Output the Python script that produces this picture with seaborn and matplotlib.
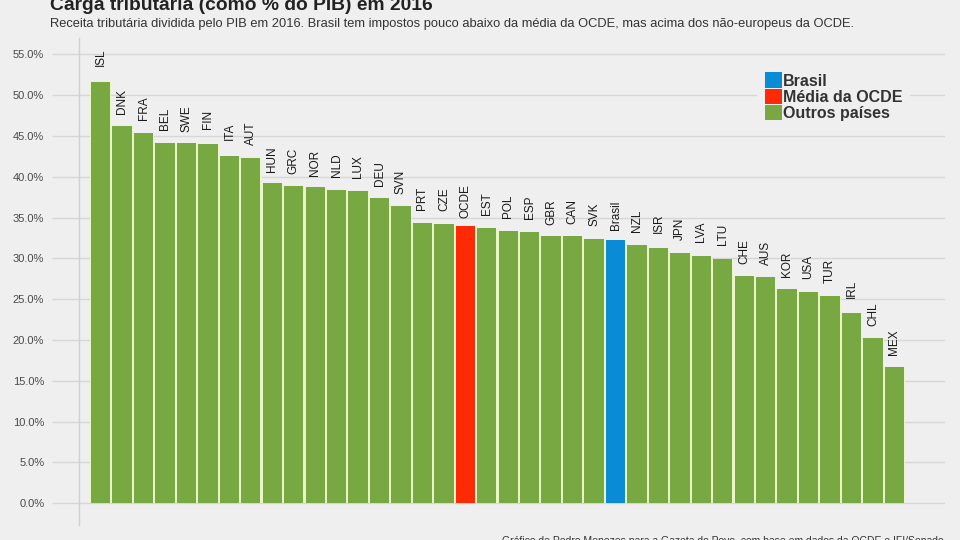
import numpy as np
import pandas as pd
import matplotlib
matplotlib.use("Agg")
import matplotlib.pyplot as plt
import seaborn as sns
from matplotlib.patches import Patch

# dados (% do PIB, 2016)
paises = ["ISL", "DNK", "FRA", "BEL", "SWE", "FIN", "ITA", "AUT", "HUN", "GRC",
          "NOR", "NLD", "LUX", "DEU", "SVN", "PRT", "CZE", "OCDE", "EST", "POL",
          "ESP", "GBR", "CAN", "SVK", "Brasil", "NZL", "ISR", "JPN", "LVA", "LTU",
          "CHE", "AUS", "KOR", "USA", "TUR", "IRL", "CHL", "MEX"]
carga = [51.6, 46.2, 45.4, 44.1, 44.1, 44.0, 42.6, 42.3, 39.2, 38.9,
         38.7, 38.4, 38.2, 37.4, 36.4, 34.3, 34.2, 34.0, 33.7, 33.4,
         33.2, 32.7, 32.7, 32.4, 32.3, 31.6, 31.3, 30.6, 30.3, 29.9,
         27.8, 27.7, 26.3, 25.9, 25.4, 23.3, 20.2, 16.7]
grupos = ["Brasil", "Média da OCDE", "Outros países"]
cores = ["#0a8bd6", "#fd2a05", "#78a842"]
yticks = [0, 5, 10, 15, 20, 25, 30, 35, 40, 45, 50, 55]

grupo = ["Brasil" if p == "Brasil" else "Média da OCDE" if p == "OCDE" else "Outros países"
         for p in paises]
df = pd.DataFrame({"pais": paises, "carga": carga, "grupo": grupo})

bg = "#efefef"
grid = "#d6d6d6"

sns.set_theme(style="whitegrid")
plt.rcParams["font.family"] = ["Liberation Sans", "DejaVu Sans"]

W, H = 960, 540
fig = plt.figure(figsize=(9.6, 5.4), dpi=100, facecolor=bg)
ax = fig.add_axes([79 / W, 1 - 525 / H, (945 - 79) / W, (525 - 38) / H])
ax.set_facecolor(bg)

# camada clara por tras (faixas entre as barras)
sns.barplot(data=df, x="pais", y="carga", order=paises, color="#eaf5c8",
            width=1.0, saturation=1, linewidth=0, edgecolor="none", ax=ax, zorder=2)
sns.barplot(data=df, x="pais", y="carga", order=paises, hue="grupo",
            hue_order=grupos, palette=dict(zip(grupos, cores)), dodge=False,
            width=0.9, saturation=1, linewidth=0, edgecolor="none",
            legend=False, ax=ax, zorder=3)

for i, (p, v) in enumerate(zip(paises, carga)):
    ax.text(i, v + 3.0, p, rotation=90, ha="center", va="center",
            fontsize=8.5, color="#1a1a1a", zorder=4)

ax.set_xlim(-1.01, 39.36)
ax.set_ylim(-2.68, 57.0)
ax.set_yticks(yticks)
ax.set_yticklabels([f"{t:.1f}%" for t in yticks], fontsize=8, color="#4a4a4a")
ax.set_xticks([])
ax.set_xlabel("")
ax.set_ylabel("")
ax.grid(axis="y", color=grid, linewidth=1.0, zorder=0)
ax.grid(axis="x", visible=False)
ax.set_axisbelow(True)
ax.tick_params(axis="y", length=19.5, width=1.0, color=grid, pad=5.5, left=True)
for s in ["top", "right", "bottom"]:
    ax.spines[s].set_visible(False)
ax.spines["left"].set_color("#d0d0d0")
ax.spines["left"].set_linewidth(1.0)

handles = [Patch(facecolor=c, edgecolor="none") for c in cores]
leg = fig.legend(handles, grupos, loc="upper left",
                 bbox_to_anchor=(749 / W, 1 - 56.5 / H), frameon=True,
                 facecolor=bg, edgecolor="none", framealpha=1,
                 borderpad=0.5, handlelength=1.05, handleheight=1.1,
                 handletextpad=0.05, labelspacing=0.0,
                 prop={"size": 11.5, "weight": "bold"})
for t in leg.get_texts():
    t.set_color("#333333")

fig.text(50 / W, 1 - 9.5 / H, "Carga tributária (como % do PIB) em 2016",
         fontsize=13.9, fontweight="bold", color="#222222", va="baseline")
fig.text(50 / W, 1 - 27 / H,
         "Receita tributária dividida pelo PIB em 2016. Brasil tem impostos pouco abaixo "
         "da média da OCDE, mas acima dos não-europeus da OCDE.",
         fontsize=9.32, color="#333333", va="baseline")
fig.text(944 / W, 1 - 535.5 / H,
         "Gráfico de Pedro Menezes para a Gazeta do Povo, com base em dados da OCDE e IFI/Senado",
         fontsize=7.5, color="#333333", ha="right", va="top")

fig.savefig("out.png", dpi=100, facecolor=bg)
